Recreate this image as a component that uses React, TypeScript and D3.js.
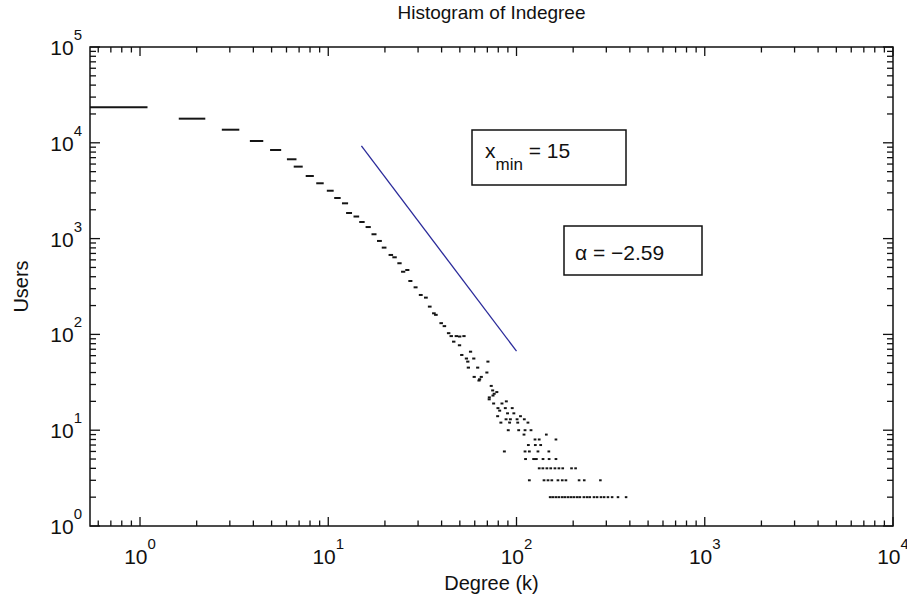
import React from "react";
import * as d3 from "d3";

// Histogram points (degree k, number of users)
const degree = [
  0.8, 1.91, 3.04, 4.17, 5.26, 6.4, 6.93, 7.98, 9.04, 10.25, 11.19, 12.28, 12.9, 14.1, 15.1, 16.3, 17.5, 18.7, 19.8,
  21.5, 22.5, 23.9, 25.0, 26.3, 27.3, 29.1, 31.0, 33.0, 34.6, 36.4, 37.3, 39.8, 41.4, 43.6, 45.0, 46.4, 47.9, 49.9,
  52.6, 49.8, 51.2, 57.0, 54.2, 59.3, 55.1, 70.5, 55.5, 62.2, 69.6, 59.6, 63.7, 65.0, 63.2, 73.4, 74.7, 76.1, 71.7,
  78.6, 75.0, 71.6, 75.6, 83.7, 88.3, 79.7, 81.4, 87.2, 94.9, 89.6, 96.8, 79.4, 88.0, 92.8, 100.7, 110, 105, 82.6,
  91.9, 101.5, 115, 90.4, 102.7, 111, 119.4, 109.6, 144, 125.4, 132, 162, 115.6, 125.9, 134.4, 86.2, 111, 117, 130,
  148.5, 111.7, 123.3, 127.5, 138.3, 149, 162,
  132, 138, 145, 152, 160, 168, 176, 196, 206,
  117, 140, 147, 154, 166, 175, 183, 215, 229, 279,
  151, 156, 162, 168, 175, 181, 188, 195, 202, 210, 217, 228, 237, 245, 258, 268, 281, 292, 306, 322, 346, 382,
];
const users = [
  23500, 17860, 13700, 10440, 8410, 6730, 5640, 4500, 3780, 3160, 2655, 2335, 1850, 1700, 1490, 1320, 1110, 945, 805,
  675, 638, 553, 451, 470, 361, 310, 258, 242, 195, 166, 160, 131, 122, 103, 96, 84, 96, 95,
  96, 77, 61, 66, 56, 56, 52, 52, 45, 45, 40, 36, 34, 36, 33, 29, 26, 24, 22,
  25, 23, 21, 19, 19, 20, 17, 16, 17, 17, 15, 15, 14, 13, 13, 13, 13, 14, 12,
  12, 12, 12, 10, 10, 10, 10, 9, 9, 8, 8, 8, 7, 7, 7, 6, 6, 6, 6,
  6, 5, 5, 5, 5, 5, 5,
  4, 4, 4, 4, 4, 4, 4, 4, 4,
  3, 3, 3, 3, 3, 3, 3, 3, 3, 3,
  2, 2, 2, 2, 2, 2, 2, 2, 2, 2, 2, 2, 2, 2, 2, 2, 2, 2, 2, 2, 2, 2,
];

// Fitted power law (x_min = 15, alpha = -2.59), endpoints
const fitX = [15, 100];
const fitY = [9270, 67];

const xDecades = [1, 10, 100, 1000, 10000];
const xExps = ["0", "1", "2", "3", "4"];
const yDecades = [1, 10, 100, 1000, 10000, 100000];
const yExps = ["0", "1", "2", "3", "4", "5"];

const W = 907;
const H = 602;
const L = 90, R = 893, T = 47, B = 526;
const FONT = "'Liberation Sans', Arial, Helvetica, sans-serif";

export default function App() {
  const x = d3.scaleLog().domain([0.5424, 10000]).range([L, R]);
  const y = d3.scaleLog().domain([1, 100000]).range([B, T]);

  const xMinor: number[] = [];
  [0.6, 0.7, 0.8, 0.9].forEach((v) => xMinor.push(v));
  for (let d = 1; d < 10000; d *= 10) for (let m = 2; m <= 9; m++) xMinor.push(d * m);
  const yMinor: number[] = [];
  for (let d = 1; d < 100000; d *= 10) for (let m = 2; m <= 9; m++) yMinor.push(d * m);

  const fitLine = d3
    .line<number>()
    .x((_, i) => x(fitX[i]))
    .y((_, i) => y(fitY[i]));

  return (
    <svg
      width={W}
      height={H}
      style={{ position: "absolute", left: 0, top: 0, background: "#fff" }}
      fontFamily={FONT}
    >
      <defs>
        <clipPath id="plotclip">
          <rect x={L} y={T} width={R - L} height={B - T} />
        </clipPath>
      </defs>
      <rect x={0} y={0} width={W} height={H} fill="#fff" />

      {/* data dashes */}
      <g clipPath="url(#plotclip)" stroke="#151515" strokeWidth={2}>
        {degree.map((k, i) => {
          const x1 = x(Math.max(k - 0.28, 0.01)) - 1.2;
          const x2 = x(k + 0.28) + 1.2;
          const yy = y(users[i]);
          return <line key={i} x1={x1} x2={x2} y1={yy} y2={yy} />;
        })}
        <path d={fitLine(fitX) || ""} fill="none" stroke="#2a2a9a" strokeWidth={1.3} />
      </g>

      {/* frame */}
      <rect x={L} y={T} width={R - L} height={B - T} fill="none" stroke="#111" strokeWidth={1.5} />

      {/* ticks */}
      <g stroke="#111" strokeWidth={1.3}>
        {xDecades.map((v, i) => (
          <g key={"xM" + i}>
            <line x1={x(v)} x2={x(v)} y1={B} y2={B - 9} />
            <line x1={x(v)} x2={x(v)} y1={T} y2={T + 9} />
          </g>
        ))}
        {xMinor.map((v, i) => (
          <g key={"xm" + i}>
            <line x1={x(v)} x2={x(v)} y1={B} y2={B - 5.5} />
            <line x1={x(v)} x2={x(v)} y1={T} y2={T + 5.5} />
          </g>
        ))}
        {yDecades.map((v, i) => (
          <g key={"yM" + i}>
            <line x1={L} x2={L + 10} y1={y(v)} y2={y(v)} />
            <line x1={R} x2={R - 10} y1={y(v)} y2={y(v)} />
          </g>
        ))}
        {yMinor.map((v, i) => (
          <g key={"ym" + i}>
            <line x1={L} x2={L + 6} y1={y(v)} y2={y(v)} />
            <line x1={R} x2={R - 6} y1={y(v)} y2={y(v)} />
          </g>
        ))}
      </g>

      {/* x tick labels */}
      {xDecades.map((v, i) => (
        <text key={"xl" + i} x={x(v)} y={564} textAnchor="middle" fontSize={21} fill="#111">
          <tspan>10</tspan>
          <tspan dy={-15} fontSize={15}>{xExps[i]}</tspan>
        </text>
      ))}

      {/* y tick labels */}
      {yDecades.map((v, i) => (
        <text key={"yl" + i} x={82} y={y(v) + 8} textAnchor="end" fontSize={21} fill="#111">
          <tspan>10</tspan>
          <tspan dy={-15} fontSize={15}>{yExps[i]}</tspan>
        </text>
      ))}

      {/* titles */}
      <text x={(L + R) / 2} y={19} textAnchor="middle" fontSize={19} fill="#111">
        Histogram of Indegree
      </text>
      <text x={(L + R) / 2} y={590} textAnchor="middle" fontSize={20} fill="#111">
        Degree (k)
      </text>
      <text
        transform={`translate(28, ${(T + B) / 2}) rotate(-90)`}
        textAnchor="middle"
        fontSize={20}
        fill="#111"
      >
        Users
      </text>

      {/* annotation boxes */}
      <rect x={472} y={130} width={154} height={55} fill="#fff" stroke="#111" strokeWidth={1.5} />
      <text x={485} y={158} fontSize={21} fill="#111">
        <tspan>x</tspan>
        <tspan dy={12} fontSize={17}>min</tspan>
        <tspan dy={-12}> = 15</tspan>
      </text>
      <rect x={564} y={226} width={138} height={49} fill="#fff" stroke="#111" strokeWidth={1.5} />
      <text x={575} y={260} fontSize={21} fill="#111">
        α = −2.59
      </text>
    </svg>
  );
}
